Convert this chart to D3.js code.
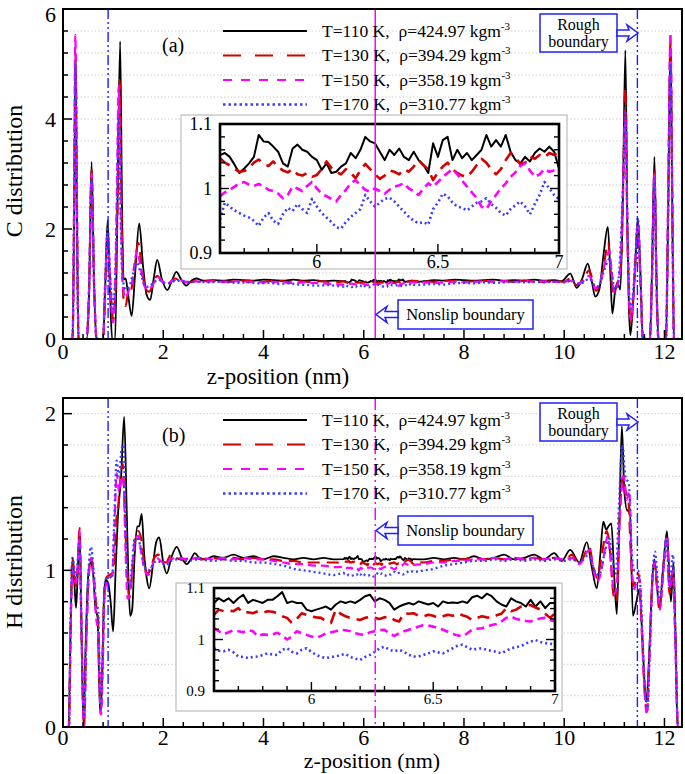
<!DOCTYPE html>
<html>
<head>
<meta charset="utf-8">
<script src="https://cdn.jsdelivr.net/npm/d3@7"></script>
<style>
body{margin:0;background:#fff}
svg{display:block}
svg text{font-family:"Liberation Serif","DejaVu Serif",serif;fill:#000}
</style>
</head>
<body>
<div class="chart"></div>
<script>
// ---- legend / tick text ----
const temps = ["110", "130", "150", "170"];
const rhos = ["424.97", "394.29", "358.19", "310.77"];
const xTicks = [0, 2, 4, 6, 8, 10, 12];
const yTicksC = [0, 2, 4, 6];
const yTicksH = [0, 1, 2];
const insetYTicks = [0.9, 1, 1.1];
const insetXTicks = [6, 6.5, 7];

// ---- main profiles [z (nm), value], panel (a) C distribution ----
const c110 = [[0.15,0],[0.19,0],[0.22,2.0],[0.25,5.07],[0.28,2.0],[0.31,0],[0.47,0],[0.52,0.8],[0.57,3.22],[0.62,1.0],[0.67,0],[0.80,0],[0.84,0.9],[0.89,2.16],[0.94,0.8],[0.98,0],[1.04,0],[1.08,2.0],[1.14,5.41],[1.18,2.2],[1.21,1.08],[1.25,1.1],[1.30,0.8],[1.37,0.42],[1.44,1.2],[1.52,2.1],[1.60,1.3],[1.67,0.8],[1.74,0.71],[1.81,1.1],[1.88,1.44],[1.97,1.1],[2.08,0.89],[2.17,1.05],[2.26,1.22],[2.36,1.08],[2.46,0.97],[2.56,1.06],[2.66,1.10],[2.8,1.06],[3.0,1.07],[3.2,1.06],[3.4,1.08],[3.6,1.07],[3.8,1.06],[4.0,1.08],[4.2,1.07],[4.4,1.06],[4.6,1.08],[4.8,1.06],[5.0,1.07],[5.2,1.05],[5.4,1.06],
  [7.2,1.05],[7.4,1.07],[7.6,1.06],[7.8,1.08],[8.0,1.07],[8.2,1.06],[8.4,1.07],[8.6,1.08],[8.8,1.06],[9.0,1.07],[9.2,1.06],[9.4,1.08],[9.6,1.06],[9.8,1.07],[9.95,1.05],[10.12,1.19],[10.25,0.93],[10.36,1.1],[10.47,1.37],[10.55,1.05],[10.62,0.77],[10.7,0.9],[10.78,1.5],[10.87,2.04],[10.92,1.2],[10.96,0.46],[11.02,0.9],[11.07,1.0],[11.12,0.9],[11.17,2.5],[11.22,5.25],[11.26,2.0],[11.29,0.6],[11.32,0.07],[11.37,0.6],[11.42,1.4],[11.47,2.19],[11.52,1.2],[11.57,0],[11.71,0],[11.75,1.2],[11.80,3.31],[11.84,1.2],[11.88,0],[12.03,0],[12.07,2.0],[12.12,5.35],[12.16,2.0],[12.19,0],[12.3,0]];
const c130 = [[0.15,0],[0.19,0],[0.22,2.2],[0.25,5.2],[0.28,2.2],[0.31,0],[0.47,0],[0.52,0.9],[0.57,3.07],[0.62,1.0],[0.67,0],[0.80,0],[0.84,0.9],[0.89,1.85],[0.95,0.9],[1.0,0.35],[1.05,1.0],[1.09,2.5],[1.13,4.71],[1.17,2.2],[1.21,0.7],[1.25,0.6],[1.30,0.85],[1.36,0.9],[1.43,1.3],[1.50,1.75],[1.58,1.25],[1.65,0.9],[1.72,0.86],[1.80,1.0],[1.88,1.15],[1.97,1.05],[2.06,0.98],[2.16,1.05],[2.24,1.1],[2.36,1.04],[2.5,1.03],[2.7,1.06],[2.9,1.05],[3.1,1.06],[3.3,1.04],[3.5,1.05],[3.7,1.06],[3.9,1.04],[4.1,1.05],[4.3,1.06],[4.5,1.04],[4.7,1.05],[4.9,1.04],[5.1,1.05],[5.3,1.04],[5.5,1.04],
  [7.2,1.05],[7.4,1.04],[7.6,1.06],[7.8,1.05],[8.0,1.04],[8.2,1.05],[8.4,1.06],[8.6,1.04],[8.8,1.05],[9.0,1.04],[9.2,1.06],[9.4,1.05],[9.6,1.04],[9.8,1.05],[10.0,1.04],[10.12,1.1],[10.25,0.98],[10.38,1.08],[10.5,1.25],[10.57,1.05],[10.63,0.88],[10.72,1.0],[10.8,1.4],[10.88,1.75],[10.93,1.2],[10.98,0.8],[11.05,1.0],[11.12,1.2],[11.17,2.5],[11.22,4.56],[11.26,2.0],[11.3,0.6],[11.33,0.3],[11.38,0.8],[11.42,1.4],[11.47,2.1],[11.52,1.1],[11.57,0],[11.71,0],[11.75,1.1],[11.8,3.05],[11.84,1.1],[11.88,0],[12.03,0],[12.07,2.2],[12.12,5.4],[12.16,2.2],[12.19,0],[12.3,0]];
const c150 = [[0.15,0],[0.19,0],[0.22,2.3],[0.245,5.53],[0.28,2.3],[0.31,0],[0.47,0],[0.52,0.9],[0.57,3.0],[0.62,1.0],[0.67,0],[0.80,0],[0.84,0.9],[0.89,1.9],[0.95,0.8],[1.0,0.3],[1.04,1.0],[1.08,3.0],[1.11,4.6],[1.15,2.5],[1.19,1.0],[1.25,0.75],[1.31,0.88],[1.38,1.05],[1.43,1.4],[1.48,1.6],[1.55,1.3],[1.63,0.95],[1.70,0.9],[1.80,1.0],[1.9,1.12],[2.0,1.03],[2.08,1.0],[2.18,1.06],[2.3,1.08],[2.45,1.04],[2.6,1.05],[2.8,1.04],[3.0,1.05],[3.2,1.04],[3.4,1.05],[3.6,1.04],[3.8,1.04],[4.0,1.03],[4.2,1.04],[4.4,1.03],[4.6,1.02],[4.8,1.03],[5.0,1.02],[5.2,1.01],[5.4,1.0],
  [7.2,1.03],[7.4,1.02],[7.6,1.03],[7.8,1.04],[8.0,1.03],[8.2,1.04],[8.4,1.05],[8.6,1.04],[8.8,1.05],[9.0,1.04],[9.2,1.05],[9.4,1.04],[9.6,1.05],[9.8,1.04],[10.0,1.04],[10.12,1.06],[10.25,1.0],[10.38,1.05],[10.5,1.15],[10.57,1.0],[10.62,0.92],[10.72,1.05],[10.82,1.4],[10.9,1.6],[10.95,1.2],[11.0,0.85],[11.07,1.0],[11.13,1.5],[11.18,3.0],[11.22,4.0],[11.26,2.0],[11.3,0.6],[11.33,0.35],[11.38,0.8],[11.42,1.4],[11.47,2.1],[11.52,1.1],[11.57,0],[11.71,0],[11.75,1.1],[11.8,3.0],[11.84,1.1],[11.88,0],[12.03,0],[12.07,2.3],[12.12,5.56],[12.16,2.3],[12.19,0],[12.3,0]];
const c170 = [[0.15,0],[0.19,0],[0.22,2.0],[0.25,5.0],[0.28,2.0],[0.31,0],[0.47,0],[0.52,0.9],[0.57,2.9],[0.62,1.0],[0.67,0],[0.80,0],[0.84,1.0],[0.89,2.0],[0.95,1.0],[1.0,0.55],[1.04,1.1],[1.08,2.5],[1.11,4.05],[1.15,2.2],[1.19,1.1],[1.25,0.9],[1.32,0.95],[1.40,1.2],[1.47,1.4],[1.55,1.2],[1.63,0.98],[1.70,0.95],[1.80,1.02],[1.9,1.08],[2.0,1.03],[2.1,1.01],[2.2,1.05],[2.35,1.06],[2.5,1.03],[2.7,1.04],[2.9,1.03],[3.1,1.04],[3.3,1.03],[3.5,1.02],[3.7,1.03],[3.9,1.01],[4.1,1.02],[4.3,1.0],[4.5,1.01],[4.7,0.99],[4.9,0.98],[5.1,0.97],[5.3,0.98],[5.5,0.96],
  [7.2,0.99],[7.4,1.0],[7.6,0.99],[7.8,1.01],[8.0,1.02],[8.2,1.01],[8.4,1.03],[8.6,1.02],[8.8,1.03],[9.0,1.04],[9.2,1.03],[9.4,1.04],[9.6,1.03],[9.8,1.04],[10.0,1.03],[10.15,1.06],[10.3,1.0],[10.4,1.04],[10.5,1.1],[10.6,0.98],[10.68,0.95],[10.78,1.2],[10.9,1.45],[10.95,1.2],[11.0,0.9],[11.07,1.0],[11.13,1.8],[11.18,3.0],[11.22,4.2],[11.26,2.2],[11.3,0.8],[11.33,0.55],[11.38,0.9],[11.42,1.5],[11.47,2.2],[11.52,1.2],[11.57,0],[11.71,0],[11.75,1.0],[11.8,2.9],[11.84,1.0],[11.88,0],[12.03,0],[12.07,2.0],[12.12,5.0],[12.16,2.0],[12.19,0],[12.3,0]];

// ---- main profiles, panel (b) H distribution ----
const h110 = [[0.08,0],[0.11,0],[0.15,0.6],[0.19,1.08],[0.23,0.9],[0.26,0.76],[0.29,0.95],[0.33,1.24],[0.37,0.6],[0.41,0],[0.45,0.5],[0.50,0.95],[0.55,1.05],[0.60,0.98],[0.65,0.75],[0.69,0.7],[0.72,0.3],[0.745,0.08],[0.78,0.3],[0.82,0.85],[0.85,0.94],[0.90,0.92],[0.95,0.8],[1.0,0.61],[1.05,1.0],[1.1,1.37],[1.16,1.6],[1.22,1.98],[1.27,1.4],[1.31,0.9],[1.34,0.71],[1.38,0.75],[1.43,1.1],[1.48,1.28],[1.52,1.28],[1.57,1.36],[1.62,1.1],[1.67,0.95],[1.72,0.885],[1.8,1.05],[1.86,1.18],[1.92,1.21],[2.0,1.05],[2.07,0.98],[2.16,1.08],[2.27,1.15],[2.37,1.08],[2.47,1.04],[2.55,1.07],[2.63,1.11],[2.72,1.08],[2.85,1.07],[3.0,1.09],[3.2,1.08],[3.4,1.1],[3.6,1.08],[3.8,1.09],[4.0,1.07],[4.2,1.09],[4.4,1.08],[4.6,1.07],[4.8,1.08],[5.0,1.07],[5.2,1.08],[5.4,1.07],
  [7.2,1.07],[7.4,1.08],[7.6,1.07],[7.8,1.08],[8.0,1.07],[8.2,1.09],[8.4,1.07],[8.6,1.08],[8.8,1.1],[9.0,1.07],[9.2,1.08],[9.4,1.1],[9.6,1.07],[9.8,1.11],[9.95,1.06],[10.12,1.13],[10.3,1.05],[10.45,1.18],[10.55,1.02],[10.65,0.885],[10.72,1.1],[10.78,1.31],[10.84,1.26],[10.88,1.28],[10.94,1.3],[11.0,0.95],[11.05,0.72],[11.1,1.3],[11.15,1.92],[11.2,1.5],[11.26,1.38],[11.31,1.4],[11.37,0.71],[11.44,0.8],[11.5,0.88],[11.55,0.63],[11.6,0.3],[11.64,0.16],[11.7,0.5],[11.76,0.95],[11.8,1.07],[11.85,0.9],[11.9,0.76],[11.97,1.0],[12.05,1.25],[12.1,0.95],[12.13,0.8],[12.18,1.05],[12.22,0.6],[12.26,0],[12.3,0]];
const h130 = [[0.08,0],[0.12,0],[0.15,0.6],[0.19,1.08],[0.23,0.95],[0.26,0.9],[0.29,1.0],[0.33,1.27],[0.37,0.6],[0.42,0],[0.46,0.5],[0.51,0.95],[0.56,1.08],[0.61,0.98],[0.66,0.78],[0.70,0.7],[0.73,0.3],[0.75,0.1],[0.78,0.35],[0.82,0.8],[0.86,0.95],[0.92,0.97],[0.98,0.98],[1.02,1.0],[1.06,1.3],[1.1,1.4],[1.15,1.6],[1.19,1.68],[1.24,1.3],[1.29,0.95],[1.32,0.82],[1.37,0.95],[1.42,1.15],[1.5,1.25],[1.56,1.2],[1.62,1.05],[1.68,0.98],[1.74,1.0],[1.82,1.08],[1.9,1.1],[1.98,1.06],[2.06,1.05],[2.15,1.1],[2.25,1.08],[2.4,1.07],[2.6,1.08],[2.8,1.07],[3.0,1.08],[3.2,1.07],[3.4,1.08],[3.6,1.07],[3.8,1.08],[4.0,1.07],[4.2,1.07],[4.4,1.06],[4.6,1.06],[4.8,1.05],[5.0,1.05],[5.2,1.05],[5.4,1.05],
  [7.2,1.05],[7.4,1.06],[7.6,1.06],[7.8,1.07],[8.0,1.07],[8.2,1.08],[8.4,1.07],[8.6,1.08],[8.8,1.07],[9.0,1.08],[9.2,1.07],[9.4,1.08],[9.6,1.07],[9.8,1.08],[10.0,1.06],[10.15,1.1],[10.3,1.04],[10.5,1.15],[10.58,1.02],[10.66,0.95],[10.75,1.1],[10.85,1.25],[10.92,1.1],[10.98,0.85],[11.04,0.8],[11.1,1.3],[11.17,1.6],[11.23,1.5],[11.28,1.45],[11.33,1.1],[11.38,0.9],[11.44,0.95],[11.48,0.98],[11.55,0.6],[11.6,0.25],[11.65,0.1],[11.7,0.45],[11.76,0.95],[11.8,1.05],[11.85,0.9],[11.9,0.75],[11.97,1.0],[12.05,1.2],[12.1,0.85],[12.17,1.0],[12.22,0.55],[12.27,0],[12.3,0]];
const h150 = [[0.08,0],[0.12,0],[0.15,0.6],[0.19,1.0],[0.23,0.95],[0.26,0.92],[0.29,1.0],[0.33,1.25],[0.37,0.6],[0.42,0],[0.46,0.5],[0.51,0.95],[0.56,1.08],[0.61,0.95],[0.66,0.7],[0.70,0.6],[0.73,0.25],[0.76,0.08],[0.79,0.35],[0.83,0.85],[0.87,0.92],[0.93,0.95],[0.98,0.97],[1.03,1.3],[1.07,1.62],[1.12,1.5],[1.17,1.6],[1.21,1.55],[1.25,1.1],[1.29,0.82],[1.33,0.85],[1.38,1.0],[1.44,1.2],[1.5,1.22],[1.57,1.1],[1.63,1.0],[1.7,0.97],[1.78,1.03],[1.86,1.08],[1.95,1.06],[2.05,1.04],[2.15,1.07],[2.3,1.08],[2.5,1.07],[2.7,1.08],[3.0,1.07],[3.2,1.08],[3.4,1.07],[3.6,1.08],[3.8,1.07],[4.0,1.07],[4.2,1.06],[4.4,1.05],[4.6,1.04],[4.8,1.04],[5.0,1.03],[5.2,1.03],[5.4,1.02],
  [7.2,1.04],[7.4,1.05],[7.6,1.05],[7.8,1.06],[8.0,1.06],[8.2,1.07],[8.4,1.07],[8.6,1.08],[8.8,1.07],[9.0,1.08],[9.2,1.07],[9.4,1.08],[9.6,1.07],[9.8,1.08],[10.0,1.07],[10.15,1.08],[10.3,1.04],[10.5,1.13],[10.6,0.98],[10.67,0.93],[10.77,1.05],[10.87,1.22],[10.93,1.05],[11.0,0.85],[11.05,0.9],[11.12,1.4],[11.19,1.6],[11.24,1.45],[11.3,1.5],[11.35,1.0],[11.4,0.88],[11.46,0.95],[11.5,0.95],[11.56,0.55],[11.61,0.2],[11.65,0.08],[11.7,0.45],[11.76,0.95],[11.81,1.05],[11.86,0.88],[11.91,0.75],[11.98,1.0],[12.05,1.22],[12.1,0.88],[12.17,1.0],[12.22,0.5],[12.27,0],[12.3,0]];
const h170 = [[0.08,0],[0.12,0],[0.15,0.65],[0.19,1.08],[0.23,1.0],[0.26,0.95],[0.29,1.05],[0.33,1.2],[0.37,0.6],[0.42,0.05],[0.46,0.55],[0.51,1.0],[0.56,1.15],[0.61,1.0],[0.66,0.8],[0.70,0.75],[0.73,0.35],[0.76,0.12],[0.79,0.4],[0.83,0.9],[0.87,0.95],[0.93,0.96],[0.98,0.95],[1.02,1.3],[1.07,1.7],[1.12,1.6],[1.17,1.78],[1.21,1.8],[1.25,1.3],[1.29,0.95],[1.33,0.9],[1.38,1.05],[1.43,1.2],[1.5,1.2],[1.57,1.1],[1.63,1.02],[1.7,1.0],[1.78,1.03],[1.86,1.06],[1.95,1.05],[2.05,1.03],[2.15,1.06],[2.3,1.07],[2.5,1.06],[2.7,1.07],[3.0,1.06],[3.2,1.07],[3.4,1.06],[3.6,1.06],[3.8,1.05],[4.0,1.05],[4.2,1.04],[4.4,1.03],[4.6,1.01],[4.8,1.0],[5.0,0.99],[5.2,0.98],[5.4,0.97],
  [7.2,1.0],[7.4,1.01],[7.6,1.03],[7.8,1.04],[8.0,1.05],[8.2,1.06],[8.4,1.06],[8.6,1.07],[8.8,1.06],[9.0,1.07],[9.2,1.06],[9.4,1.07],[9.6,1.06],[9.8,1.07],[10.0,1.06],[10.15,1.07],[10.3,1.05],[10.5,1.1],[10.6,1.0],[10.7,0.97],[10.8,1.1],[10.9,1.2],[10.97,1.05],[11.03,0.98],[11.09,1.4],[11.16,1.8],[11.22,1.6],[11.29,1.55],[11.35,1.1],[11.4,1.0],[11.47,1.0],[11.52,0.9],[11.57,0.5],[11.62,0.2],[11.66,0.12],[11.71,0.5],[11.77,1.0],[11.81,1.12],[11.86,0.95],[11.91,0.8],[11.98,1.02],[12.04,1.2],[12.1,0.9],[12.17,1.1],[12.22,0.55],[12.27,0],[12.3,0]];

// ---- centre region detail (insets), sampled at zInset ----
const zInset = [5.60,5.62,5.64,5.66,5.68,5.70,5.72,5.74,5.76,5.78,5.80,5.82,5.84,5.86,5.88,5.90,5.92,5.94,5.96,5.98,
  6.00,6.02,6.04,6.06,6.08,6.10,6.12,6.14,6.16,6.18,6.20,6.22,6.24,6.26,6.28,6.30,6.32,6.34,6.36,6.38,
  6.40,6.42,6.44,6.46,6.48,6.50,6.52,6.54,6.56,6.58,6.60,6.62,6.64,6.66,6.68,6.70,6.72,6.74,6.76,6.78,
  6.80,6.82,6.84,6.86,6.88,6.90,6.92,6.94,6.96,6.98,7.00];
const c110In = [1.052,1.055,1.049,1.037,1.024,1.031,1.039,1.049,1.083,1.073,1.072,1.065,1.057,1.039,1.034,1.062,1.068,1.060,1.057,1.049,
  1.044,1.029,1.039,1.024,1.026,1.034,1.039,1.055,1.047,1.060,1.080,1.073,1.070,1.057,1.044,1.060,1.052,1.062,1.049,1.044,
  1.057,1.044,1.037,1.024,1.070,1.049,1.075,1.080,1.044,1.060,1.047,1.055,1.044,1.052,1.060,1.083,1.065,1.075,1.065,1.083,
  1.057,1.044,1.039,1.049,1.042,1.055,1.062,1.057,1.065,1.057,1.031];
const c130In = [1.047,1.040,1.036,1.030,1.026,1.027,1.032,1.040,1.045,1.038,1.035,1.042,1.033,1.028,1.025,1.030,1.022,1.020,1.024,1.018,
  1.021,1.030,1.042,1.032,1.026,1.022,1.030,1.024,1.016,1.028,1.038,1.030,1.022,1.015,1.020,1.028,1.026,1.022,1.030,1.026,
  1.034,1.044,1.036,1.030,1.013,1.025,1.034,1.040,1.030,1.024,1.020,1.018,1.026,1.036,1.046,1.040,1.030,1.022,1.030,1.044,
  1.055,1.048,1.038,1.040,1.050,1.046,1.052,1.048,1.055,1.052,1.057];
const c150In = [0.988,0.994,0.998,1.003,1.008,1.010,1.006,1.004,1.007,1.003,0.998,0.996,0.992,0.985,0.990,1.003,1.000,0.996,1.004,1.010,
  1.000,0.992,0.988,0.984,0.980,0.990,0.998,1.008,1.013,1.005,0.998,0.995,1.000,0.996,0.992,0.998,1.003,1.005,1.008,1.000,
  0.996,0.990,1.000,1.008,1.003,1.010,1.018,1.024,1.030,1.022,1.012,1.003,0.994,0.985,0.972,0.968,0.980,0.990,1.000,1.008,
  1.018,1.025,1.035,1.039,1.028,1.018,1.022,1.030,1.026,1.028,1.029];
const c170In = [0.952,0.978,0.972,0.966,0.962,0.958,0.955,0.950,0.942,0.955,0.962,0.950,0.945,0.960,0.970,0.965,0.976,0.968,0.962,0.984,
  0.972,0.962,0.955,0.948,0.940,0.938,0.948,0.956,0.962,0.968,0.990,0.980,0.972,0.978,0.984,0.986,0.980,0.972,0.964,0.956,
  0.950,0.946,0.948,0.944,0.968,0.978,0.992,0.988,0.978,0.972,0.970,0.966,0.972,0.978,0.980,0.985,0.976,0.970,0.962,0.958,
  0.968,0.974,0.980,0.972,0.960,0.976,0.990,1.010,1.000,0.990,0.983];
const h110In = [1.071,1.080,1.074,1.080,1.071,1.080,1.087,1.071,1.077,1.074,1.071,1.077,1.077,1.084,1.092,1.071,1.074,1.071,1.071,1.058,
  1.055,1.058,1.061,1.064,1.058,1.068,1.074,1.071,1.074,1.071,1.077,1.084,1.087,1.074,1.080,1.077,1.071,1.058,1.064,1.068,
  1.071,1.068,1.074,1.071,1.068,1.071,1.064,1.074,1.071,1.072,1.071,1.074,1.071,1.082,1.085,1.080,1.089,1.084,1.074,1.068,
  1.064,1.080,1.074,1.071,1.064,1.077,1.064,1.074,1.061,1.071,1.071];
const h130In = [1.048,1.058,1.055,1.056,1.055,1.061,1.051,1.053,1.051,1.055,1.052,1.055,1.054,1.051,1.045,1.042,1.032,1.040,1.051,1.048,
  1.045,1.043,1.042,1.035,1.032,1.058,1.050,1.045,1.042,1.040,1.038,1.042,1.044,1.042,1.040,1.043,1.045,1.038,1.035,1.051,
  1.050,1.051,1.046,1.045,1.048,1.046,1.042,1.045,1.048,1.046,1.051,1.047,1.044,1.038,1.042,1.045,1.043,1.042,1.047,1.050,
  1.061,1.055,1.058,1.064,1.066,1.067,1.062,1.058,1.050,1.042,1.051];
const h150In = [1.022,1.016,1.010,1.014,1.018,1.016,1.014,1.018,1.016,1.006,1.010,1.009,1.010,1.013,1.008,1.000,1.006,1.016,1.012,1.009,
  1.006,1.003,1.007,1.012,1.014,1.016,1.019,1.018,1.016,1.012,1.010,1.009,1.014,1.016,1.018,1.019,1.012,1.007,1.012,1.016,
  1.019,1.022,1.025,1.028,1.027,1.025,1.022,1.019,1.015,1.011,1.008,1.006,1.012,1.019,1.021,1.022,1.025,1.028,1.030,1.035,
  1.042,1.045,1.040,1.038,1.036,1.035,1.038,1.041,1.042,1.038,1.035];
const h170In = [0.983,0.978,0.977,0.980,0.975,0.967,0.966,0.964,0.966,0.967,0.970,0.973,0.971,0.970,0.980,0.983,0.976,0.973,0.980,0.983,
  0.976,0.970,0.966,0.964,0.966,0.967,0.970,0.972,0.966,0.963,0.960,0.966,0.970,0.976,0.983,0.986,0.980,0.977,0.980,0.976,
  0.970,0.967,0.967,0.970,0.973,0.977,0.975,0.973,0.978,0.983,0.988,0.990,0.985,0.980,0.982,0.983,0.980,0.978,0.976,0.973,
  0.978,0.983,0.985,0.987,0.992,0.996,0.999,0.995,0.993,0.992,0.990];

function init(){

    const w = 685, h = 774;
    const left = 63, right = 682;
    const serif = "Liberation Serif, DejaVu Serif, serif";

    const svg = d3.select(".chart").append("svg")
        .attr("width", w).attr("height", h)
        .attr("font-family", serif);

    // line looks, same order as temps
    const looks = [
        {color: "#000000", width: 1.8, dash: null, legDash: null},
        {color: "#d40000", width: 2.2, dash: "12,7", legDash: "18,14"},
        {color: "#ff00ff", width: 2.2, dash: "8,5", legDash: "9,9"},
        {color: "#3c3cff", width: 2.3, dash: "2,3", legDash: "2.5,3"}
    ];

    // join the coarse profile with the inset detail
    function merge(main, detail){
        const pts = main.filter(d => d[0] < 5.59 || d[0] > 7.01)
            .concat(zInset.map((z, i) => [z, detail[i]]));
        return pts.sort((a, b) => a[0] - b[0]);
    }

    function hollowArrow(g, x0, x1, yc, dir){
        // dir 1 = pointing right, -1 = pointing left
        const hb = x1 - dir * 11;
        g.append("path")
            .attr("d", `M${x0},${yc-3} L${hb+dir*2},${yc-3} L${hb},${yc-8} L${x1},${yc} L${hb},${yc+8} L${hb+dir*2},${yc+3} L${x0},${yc+3} Z`)
            .attr("fill", "#fff").attr("stroke", "#2020ff").attr("stroke-width", 1.5)
            .attr("stroke-linejoin", "miter");
    }

    function panel(p){
        const x = d3.scaleLinear().domain([0, 12.35]).range([left, right]);
        const y = d3.scaleLinear().domain([0, p.yMax]).range([p.bottom, p.top]);
        const g = svg.append("g");
        const nY = Math.floor(p.yMax / p.yStep + 1e-6);

        svg.append("clipPath").attr("id", "clip" + p.id)
            .append("rect").attr("x", left).attr("y", p.top)
            .attr("width", right - left).attr("height", p.bottom - p.top);

        // dotted horizontal grid
        g.append("g").selectAll("line")
            .data(d3.range(1, nY + 1).map(k => k * p.yStep))
            .join("line")
            .attr("x1", left).attr("x2", right)
            .attr("y1", d => y(d)).attr("y2", d => y(d))
            .attr("stroke", "#c4c4c4").attr("stroke-width", 0.8)
            .attr("stroke-dasharray", "1.5,2");

        // profiles
        const line = d3.line().x(d => x(d[0])).y(d => y(d[1])).curve(d3.curveMonotoneX);
        const lg = g.append("g").attr("clip-path", `url(#clip${p.id})`);
        p.series.forEach((s, i) => {
            lg.append("path").datum(merge(s, p.detail[i]))
                .attr("d", line)
                .attr("fill", "none")
                .attr("stroke", looks[i].color)
                .attr("stroke-width", looks[i].width)
                .attr("stroke-dasharray", looks[i].dash)
                .attr("stroke-linejoin", "round");
        });

        // rough boundary positions
        [0.9, 11.46].forEach(z => {
            g.append("line").attr("x1", x(z)).attr("x2", x(z))
                .attr("y1", p.top).attr("y2", p.bottom)
                .attr("stroke", "#1e1eff").attr("stroke-width", 1.4)
                .attr("stroke-dasharray", "10,3,2,3,2,3");
        });

        // inset
        const ins = p.inset;
        const ix = d3.scaleLinear().domain([5.6, 7]).range([ins.x0, ins.x1]);
        const iy = d3.scaleLinear().domain([0.9, 1.1]).range([ins.y1, ins.y0]);
        g.append("rect").attr("x", ins.ox).attr("y", ins.oy)
            .attr("width", ins.ow).attr("height", ins.oh)
            .attr("fill", "#fff").attr("stroke", "#bdbdbd").attr("stroke-width", 1.2);
        svg.append("clipPath").attr("id", "iclip" + p.id)
            .append("rect").attr("x", ins.x0).attr("y", ins.y0)
            .attr("width", ins.x1 - ins.x0).attr("height", ins.y1 - ins.y0);
        const iline = d3.line().x(d => ix(d[0])).y(d => iy(d[1]));
        const ig = g.append("g").attr("clip-path", `url(#iclip${p.id})`);
        p.detail.forEach((vals, i) => {
            ig.append("path").datum(zInset.map((z, k) => [z, vals[k]]))
                .attr("d", iline)
                .attr("fill", "none")
                .attr("stroke", looks[i].color)
                .attr("stroke-width", i == 0 ? 2 : 2.6)
                .attr("stroke-dasharray", looks[i].dash)
                .attr("stroke-linejoin", "round");
        });
        // inset ticks
        const it = g.append("g").attr("stroke", "#000").attr("stroke-width", 1.4);
        d3.range(0, 11).forEach(k => {
            const v = 0.9 + k * 0.02;
            const len = (k % 5 == 0) ? 9 : 5;
            it.append("line").attr("x1", ins.x0).attr("x2", ins.x0 + len).attr("y1", iy(v)).attr("y2", iy(v));
            it.append("line").attr("x1", ins.x1).attr("x2", ins.x1 - len).attr("y1", iy(v)).attr("y2", iy(v));
        });
        d3.range(0, 15).forEach(k => {
            const v = 5.6 + k * 0.1;
            const len = (k == 4 || k == 9 || k == 14) ? 9 : 5;
            it.append("line").attr("x1", ix(v)).attr("x2", ix(v)).attr("y1", ins.y1).attr("y2", ins.y1 - len);
        });
        g.append("rect").attr("x", ins.x0).attr("y", ins.y0)
            .attr("width", ins.x1 - ins.x0).attr("height", ins.y1 - ins.y0)
            .attr("fill", "none").attr("stroke", "#000").attr("stroke-width", 2.6);
        g.append("g").selectAll("text").data(insetYTicks).join("text")
            .attr("x", ins.labX).attr("y", d => iy(d)).attr("dy", "0.35em")
            .attr("text-anchor", "end").attr("font-size", ins.fs)
            .text(d => d);
        g.append("g").selectAll("text").data(insetXTicks).join("text")
            .attr("x", d => ix(d)).attr("y", ins.labY)
            .attr("text-anchor", "middle").attr("font-size", ins.fs)
            .text(d => d);

        // nonslip boundary (centre)
        g.append("line").attr("x1", x(6.23)).attr("x2", x(6.23))
            .attr("y1", p.top).attr("y2", p.bottom)
            .attr("stroke", "#ff00ff").attr("stroke-width", 1.5)
            .attr("stroke-dasharray", p.centerDash);

        // legend
        temps.forEach((t, i) => {
            const ly = p.legY + i * 24.5;
            g.append("line").attr("x1", 223).attr("x2", 307).attr("y1", ly).attr("y2", ly)
                .attr("stroke", looks[i].color).attr("stroke-width", looks[i].width)
                .attr("stroke-dasharray", looks[i].legDash);
            const tx = g.append("text").attr("x", 322).attr("y", ly + 5.5).attr("font-size", 17.5);
            tx.append("tspan").text(`T=${t} K,`);
            tx.append("tspan").attr("dx", 9).text(`ρ=${rhos[i]} kgm`);
            tx.append("tspan").attr("dy", -7).attr("font-size", 11).text("-3");
        });

        g.append("text").attr("x", 162).attr("y", p.labY).attr("font-size", 20).text(p.label);

        // rough boundary note
        g.append("rect").attr("x", 540).attr("y", p.roughY).attr("width", 77).attr("height", 38)
            .attr("fill", "#fff").attr("stroke", "#2020ff").attr("stroke-width", 1.5);
        g.append("text").attr("x", 578.5).attr("y", p.roughY + 16).attr("text-anchor", "middle")
            .attr("font-size", 16).text("Rough");
        g.append("text").attr("x", 578.5).attr("y", p.roughY + 33).attr("text-anchor", "middle")
            .attr("font-size", 16).text("boundary");
        hollowArrow(g, 617, 638, p.roughY + 19, 1);

        // nonslip boundary note
        g.append("rect").attr("x", 398).attr("y", p.nonY).attr("width", 135).attr("height", 29)
            .attr("fill", "#fff").attr("stroke", "#2020ff").attr("stroke-width", 1.5);
        g.append("text").attr("x", 465.5).attr("y", p.nonY + 20).attr("text-anchor", "middle")
            .attr("font-size", 16.5).text("Nonslip boundary");
        hollowArrow(g, 398, 376, p.nonY + 14.5, -1);

        // axes: ticks inside, frame
        const ax = g.append("g").attr("stroke", "#000").attr("stroke-width", 1.5);
        d3.range(0, nY + 1).forEach(k => {
            const v = k * p.yStep;
            const major = p.yTicks.some(t => Math.abs(t - v) < 1e-6);
            ax.append("line").attr("x1", left).attr("x2", left + (major ? 9 : 5))
                .attr("y1", y(v)).attr("y2", y(v));
        });
        d3.range(0, 31).forEach(k => {
            const v = k * 0.4;
            const major = k % 5 == 0;
            ax.append("line").attr("x1", x(v)).attr("x2", x(v))
                .attr("y1", p.bottom).attr("y2", p.bottom - (major ? 9 : 5));
        });
        g.append("rect").attr("x", left).attr("y", p.top)
            .attr("width", right - left).attr("height", p.bottom - p.top)
            .attr("fill", "none").attr("stroke", "#000").attr("stroke-width", 2);

        g.append("g").selectAll("text").data(p.yTicks).join("text")
            .attr("x", 56).attr("y", d => Math.max(y(d), 14)).attr("dy", "0.35em")
            .attr("text-anchor", "end").attr("font-size", 22)
            .text(d => d);
        g.append("g").selectAll("text").data(xTicks).join("text")
            .attr("x", d => x(d)).attr("y", p.bottom + p.tickDy)
            .attr("text-anchor", "middle").attr("font-size", 22)
            .text(d => d);

        g.append("text").attr("x", p.xTitleX).attr("y", p.bottom + p.titleDy)
            .attr("text-anchor", "middle").attr("font-size", p.titleFs)
            .text("z-position (nm)");
        g.append("text")
            .attr("transform", `translate(22,${p.yTitleY}) rotate(-90)`)
            .attr("text-anchor", "middle").attr("font-size", 24)
            .text(p.yTitle);
    }

    panel({
        id: "a", top: 9, bottom: 339, yMax: 6, yStep: 0.4, yTicks: yTicksC,
        series: [c110, c130, c150, c170], detail: [c110In, c130In, c150In, c170In],
        inset: {ox: 181, oy: 115, ow: 386, oh: 154, x0: 220, x1: 559, y0: 124, y1: 253, labX: 212, labY: 268, fs: 18},
        centerDash: null, legY: 31, labY: 52, label: "(a)",
        roughY: 14, nonY: 300, xTitleX: 278, tickDy: 20, titleDy: 45, titleFs: 23,
        yTitle: "C distribution", yTitleY: 171
    });

    panel({
        id: "b", top: 398, bottom: 727, yMax: 2.1, yStep: 0.2, yTicks: yTicksH,
        series: [h110, h130, h150, h170], detail: [h110In, h130In, h150In, h170In],
        inset: {ox: 176, oy: 583, ow: 386, oh: 128, x0: 214, x1: 555, y0: 588, y1: 691, labX: 205, labY: 704, fs: 15},
        centerDash: "12,4,2,4", legY: 420, labY: 442, label: "(b)",
        roughY: 403, nonY: 516, xTitleX: 372, tickDy: 18, titleDy: 41, titleFs: 22,
        yTitle: "H distribution", yTitleY: 562
    });
}
window.onload = init();
</script>
</body>
</html>
